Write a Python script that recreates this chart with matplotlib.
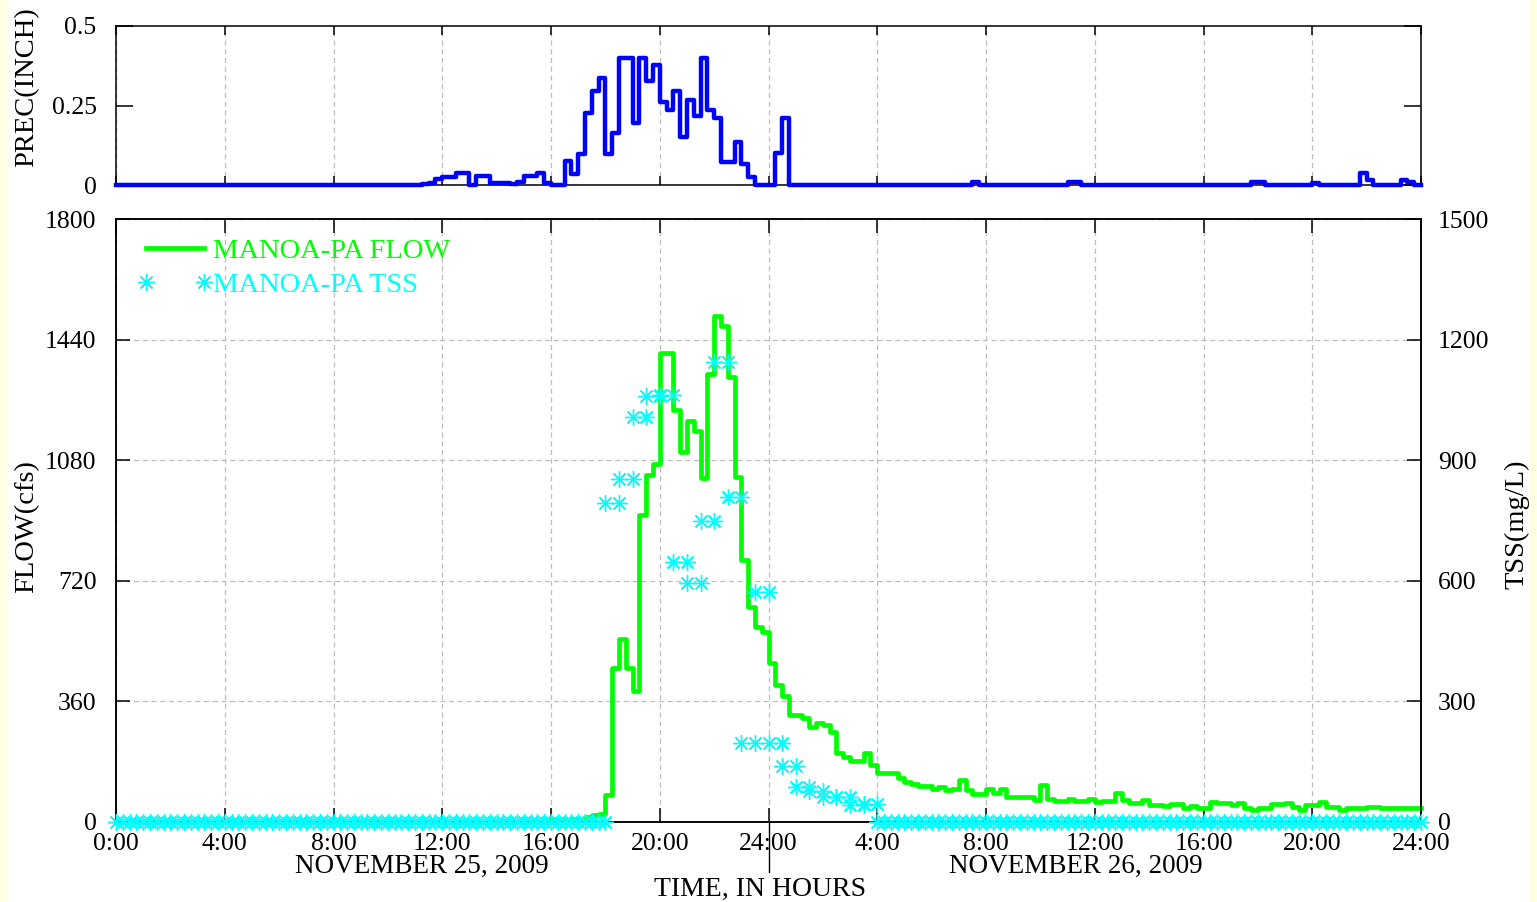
import matplotlib.pyplot as plt
from matplotlib.lines import Line2D
from matplotlib.patches import Rectangle

# hours counted from 0:00 on November 25, 2009
# precipitation (inch per 15 min) as (start hour, value) steps
prec_steps = [(0, 0), (11.25, 0.004), (11.5, 0.007), (11.75, 0.02), (12.0, 0.026), (12.5, 0.039),
              (13.0, 0), (13.25, 0.028), (13.75, 0.007), (14.5, 0.004), (14.75, 0.01), (15.0, 0.028),
              (15.5, 0.039), (15.75, 0.007), (16.0, 0), (16.5, 0.076), (16.75, 0.035), (17.0, 0.097),
              (17.25, 0.225), (17.5, 0.297), (17.75, 0.335), (18.0, 0.097), (18.25, 0.165), (18.5, 0.40),
              (19.0, 0.194), (19.25, 0.40), (19.5, 0.327), (19.75, 0.377), (20.0, 0.262), (20.25, 0.236),
              (20.5, 0.297), (20.75, 0.15), (21.0, 0.267), (21.25, 0.217), (21.5, 0.40), (21.75, 0.236),
              (22.0, 0.21), (22.25, 0.073), (22.75, 0.136), (23.0, 0.066), (23.25, 0.026), (23.5, 0),
              (24.25, 0.1), (24.5, 0.21), (24.75, 0), (31.5, 0.008), (31.75, 0), (35.0, 0.008), (35.5, 0),
              (41.75, 0.008), (42.25, 0), (44.0, 0.005), (44.25, 0), (45.75, 0.037), (46.0, 0.016),
              (46.25, 0), (47.25, 0.015), (47.5, 0.008), (47.75, 0)]

# MANOA-PA flow (cfs) as (start hour, value) steps
flow_steps = [(0, 2), (15.0, 4), (16.0, 6), (16.75, 10), (17.25, 15), (17.5, 20), (17.75, 25), (18.0, 80),
              (18.25, 460), (18.5, 545), (18.75, 460), (19.0, 390), (19.25, 916), (19.5, 1036), (19.75, 1069),
              (20.0, 1399), (20.5, 1230), (20.75, 1105), (21.0, 1198), (21.25, 1168), (21.5, 1027),
              (21.75, 1337), (22.0, 1510), (22.25, 1480), (22.5, 1327), (22.75, 1031), (23.0, 782),
              (23.25, 643), (23.5, 583), (23.75, 568), (24.0, 474), (24.25, 409), (24.5, 376), (24.75, 319),
              (25.25, 309), (25.5, 285), (25.75, 295), (26.0, 290), (26.25, 270), (26.5, 207), (26.75, 195),
              (27.0, 183), (27.5, 205), (27.75, 170), (28.0, 147), (28.75, 130), (29.0, 120), (29.25, 112),
              (29.5, 107), (30.0, 100), (30.25, 105), (30.5, 96), (30.75, 100), (31.0, 125), (31.25, 96),
              (31.5, 84), (32.0, 98), (32.25, 86), (32.5, 98), (32.75, 76), (33.75, 66), (34.0, 110),
              (34.25, 68), (34.5, 64), (35.0, 69), (35.25, 63), (35.75, 68), (36.0, 61), (36.25, 64),
              (36.75, 86), (37.0, 66), (37.25, 58), (37.75, 66), (38.0, 51), (38.5, 48), (38.75, 53),
              (39.25, 41), (39.5, 48), (39.75, 41), (40.25, 61), (40.5, 56), (41.0, 51), (41.25, 58),
              (41.5, 41), (41.75, 36), (42.0, 41), (42.5, 54), (43.0, 58), (43.25, 46), (43.5, 36),
              (43.75, 51), (44.25, 61), (44.5, 46), (45.0, 36), (45.25, 41), (46.0, 46), (46.5, 41)]

# MANOA-PA TSS (mg/L) half-hour samples, each one drawn at t and t+0.5
tss_samples = [(18.0, 793), (18.5, 853), (19.0, 1007), (19.5, 1060), (20.0, 1062), (20.5, 648),
               (21.0, 594), (21.5, 750), (22.0, 1145), (22.5, 809), (23.0, 197), (23.5, 573),
               (24.0, 197), (24.5, 139), (25.0, 88), (25.5, 78), (26.0, 63), (26.5, 63),
               (27.0, 42), (27.5, 46)]
# periods where TSS reads 0 every 15 minutes (start, end)
tss_zero_periods = [(0.0, 18.0), (28.0, 39.0), (39.25, 42.75), (43.0, 46.25), (46.5, 48.0)]

x_ticks = [0, 4, 8, 12, 16, 20, 24, 28, 32, 36, 40, 44, 48]
x_labels = ['0:00', '4:00', '8:00', '12:00', '16:00', '20:00', '24:00',
            '4:00', '8:00', '12:00', '16:00', '20:00', '24:00']
day_labels = ['NOVEMBER 25, 2009', 'NOVEMBER 26, 2009']

W, H = 1537, 902
plt.rcParams['font.family'] = ['Liberation Serif', 'DejaVu Serif']
fig = plt.figure(figsize=(W / 100, H / 100), dpi=100, facecolor='#FFFFE6')
fig.patches.append(Rectangle((8 / W, 0), 1522 / W, 1, transform=fig.transFigure,
                             facecolor='white', edgecolor='none', zorder=-10))


def fx(px):
    return px / W


def fy(py):
    return 1 - py / H


def steps(pairs, end=48.0):
    t = [p[0] for p in pairs] + [end]
    v = [p[1] for p in pairs] + [pairs[-1][1]]
    return t, v


grid_kw = dict(color='#bdbdbd', linestyle=(0, (4, 3)), linewidth=0.9)
tick_fs = 18.5
label_fs = 20.5

# ---- precipitation panel ----
ax_p = fig.add_axes([fx(116), fy(185), fx(1305), 159 / H])
t, v = steps(prec_steps)
ax_p.step(t, v, where='post', color='#0000FF', lw=3.2, clip_on=False, zorder=3)
ax_p.set_xlim(0, 48)
ax_p.set_ylim(0, 0.5)
ax_p.set_xticks(x_ticks)
ax_p.set_yticks([0, 0.25, 0.5])
ax_p.set_yticklabels(['0', '0.25', '0.5'])
ax_p.grid(axis='x', **grid_kw)
ax_p.tick_params(axis='x', direction='in', top=True, bottom=True, labelbottom=False,
                 length=6.5, width=1.1)
ax_p.tick_params(axis='y', direction='in', left=True, right=True, length=12, width=1.1,
                 labelsize=tick_fs, pad=14)

# ---- flow / TSS panel ----
ax_f = fig.add_axes([fx(116), fy(822), fx(1305), 603 / H])
t, v = steps(flow_steps)
ax_f.step(t, v, where='post', color='#00FF00', lw=3.4, clip_on=False, zorder=3)
ax_f.set_xlim(0, 48)
ax_f.set_ylim(0, 1800)
ax_f.set_yticks([0, 360, 720, 1080, 1440, 1800])
ax_f.set_xticks(x_ticks)
ax_f.set_xticklabels(x_labels)
ax_f.grid(True, **grid_kw)
ax_f.tick_params(axis='x', direction='in', top=True, bottom=True, length=10, width=1.1,
                 labelsize=tick_fs, pad=8)
ax_f.tick_params(axis='y', direction='in', left=True, right=False, length=10, width=1.1,
                 labelsize=tick_fs, pad=14)

ax_t = ax_f.twinx()
ax_t.set_ylim(0, 1500)
ax_t.set_yticks([0, 300, 600, 900, 1200, 1500])
ax_t.tick_params(axis='y', direction='in', length=10, width=1.1, labelsize=tick_fs, pad=12)
star = (8, 2, 0)
tss_x, tss_y = [], []
for ts, val in tss_samples:
    tss_x += [ts, ts + 0.5]
    tss_y += [val, val]
for a, b in tss_zero_periods:
    k = 0
    while a + 0.25 * k <= b:
        tss_x.append(a + 0.25 * k)
        tss_y.append(0)
        k += 1
ax_t.plot(tss_x, tss_y, linestyle='none', marker=star, markersize=12, markeredgewidth=1.0,
          color='#00FFFF', clip_on=False, zorder=4)

for a in (ax_p, ax_f, ax_t):
    for s in a.spines.values():
        s.set_linewidth(1.1)

# legend
handles = [Line2D([], [], color='#00FF00', lw=3.4),
           Line2D([], [], linestyle='none', marker=star, markersize=12, markeredgewidth=1.0,
                  color='#00FFFF')]
leg = ax_t.legend(handles, ['MANOA-PA FLOW', 'MANOA-PA TSS'], loc='upper left',
                  bbox_to_anchor=(0.0161, 0.969), frameon=False, fontsize=20.5, numpoints=2,
                  handlelength=2.67, handletextpad=0.0, labelspacing=0.3, borderpad=0,
                  borderaxespad=0)
for txt, col in zip(leg.get_texts(), ['#00FF00', '#00FFFF']):
    txt.set_color(col)

# axis titles and date labels
fig.text(fx(27), fy(87), 'PREC(INCH)', rotation=90, ha='center', va='center', fontsize=label_fs)
fig.text(fx(27), fy(527), 'FLOW(cfs)', rotation=90, ha='center', va='center', fontsize=label_fs)
fig.text(fx(1517), fy(524), 'TSS(mg/L)', rotation=90, ha='center', va='center', fontsize=label_fs)
fig.text(fx(422), fy(866), day_labels[0], ha='center', va='center', fontsize=19.5)
fig.text(fx(1076), fy(866), day_labels[1], ha='center', va='center', fontsize=19.5)
fig.text(fx(760), fy(889), 'TIME, IN HOURS', ha='center', va='center', fontsize=20)
fig.add_artist(Line2D([fx(769), fx(769)], [fy(822), fy(872)], color='black', lw=1.0))

fig.savefig('out.png', dpi=100, facecolor=fig.get_facecolor())
